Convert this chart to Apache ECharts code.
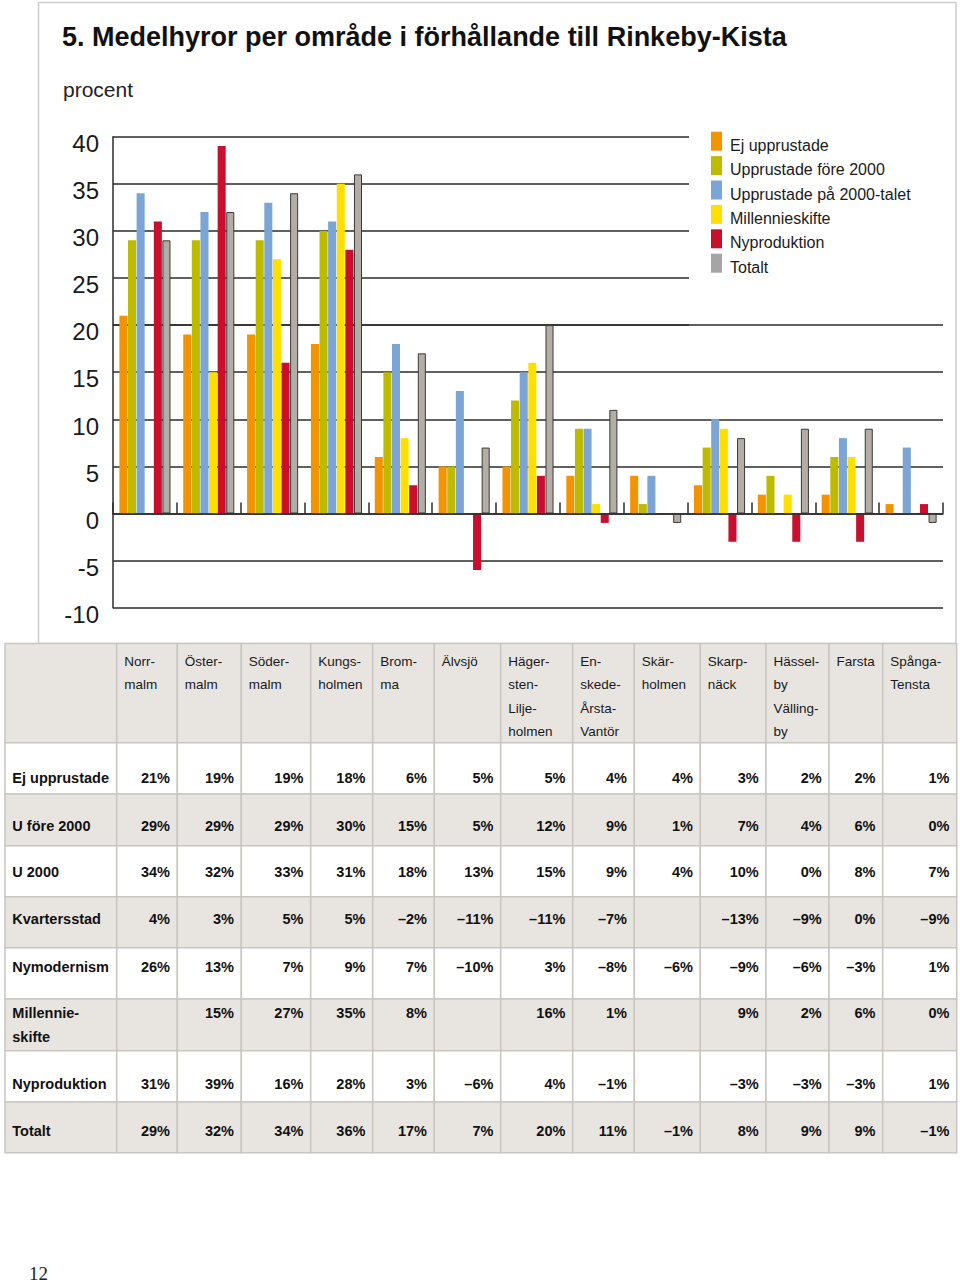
<!DOCTYPE html>
<html>
<head>
<meta charset="utf-8">
<script src="https://cdn.jsdelivr.net/npm/echarts/dist/echarts.min.js"></script>
<style>
html,body{margin:0;padding:0;background:#fff}
#c{width:960px;height:1283px}
</style>
</head>
<body>
<div id="c"></div>
<script>
// ---------- DATA ----------
const categories = ['Norrmalm', 'Östermalm', 'Södermalm', 'Kungsholmen', 'Bromma', 'Älvsjö',
  'Hägersten-Liljeholmen', 'Enskede-Årsta-Vantör', 'Skärholmen', 'Skarpnäck',
  'Hässelby-Vällingby', 'Farsta', 'Spånga-Tensta'];
const headerLabels = ['Norr-\nmalm', 'Öster-\nmalm', 'Söder-\nmalm', 'Kungs-\nholmen', 'Brom-\nma', 'Älvsjö',
  'Häger-\nsten-\nLilje-\nholmen', 'En-\nskede-\nÅrsta-\nVantör', 'Skär-\nholmen', 'Skarp-\nnäck',
  'Hässel-\nby\nVälling-\nby', 'Farsta', 'Spånga-\nTensta'];

const ejUpprustade    = [21, 19, 19, 18, 6, 5, 5, 4, 4, 3, 2, 2, 1];
const uFore2000       = [29, 29, 29, 30, 15, 5, 12, 9, 1, 7, 4, 6, 0];
const u2000           = [34, 32, 33, 31, 18, 13, 15, 9, 4, 10, 0, 8, 7];
const kvartersstad    = [4, 3, 5, 5, -2, -11, -11, -7, null, -13, -9, 0, -9];
const nymodernism     = [26, 13, 7, 9, 7, -10, 3, -8, -6, -9, -6, -3, 1];
const millennieskifte = [null, 15, 27, 35, 8, null, 16, 1, null, 9, 2, 6, 0];
const nyproduktion    = [31, 39, 16, 28, 3, -6, 4, -1, null, -3, -3, -3, 1];
const totalt          = [29, 32, 34, 36, 17, 7, 20, 11, -1, 8, 9, 9, -1];

const seriesNames = ['Ej upprustade', 'Upprustade före 2000', 'Upprustade på 2000-talet',
  'Millennieskifte', 'Nyproduktion', 'Totalt'];
const seriesValues = [ejUpprustade, uFore2000, u2000, millennieskifte, nyproduktion, totalt];

const tableRowLabels = ['Ej upprustade', 'U före 2000', 'U 2000', 'Kvartersstad', 'Nymodernism',
  'Millennie-\nskifte', 'Nyproduktion', 'Totalt'];
const tableRows = [ejUpprustade, uFore2000, u2000, kvartersstad, nymodernism, millennieskifte, nyproduktion, totalt];

const yMin = -10, yMax = 40, yStep = 5;
const titleText = '5. Medelhyror per område i förhållande till Rinkeby-Kista';
const unitText = 'procent';
const pageNumber = '12';

// ---------- STYLE / LAYOUT ----------
const FONT = '"Liberation Sans", Arial, Helvetica, sans-serif';
const seriesColors = ['#f29400', '#bdba00', '#7ba5d4', '#ffdf00', '#c8102e', '#b4ada6'];
const legendGray = '#a5a5a5';
const gridColor = '#2b2b2b';
const plotLeft = 113, plotRight = 943, plotTop = 136.7, plotBottom = 607.7;
const W = 960, H = 1283;
const legendCutX = 689;
const yToPx = v => plotBottom - (v - yMin) / (yMax - yMin) * (plotBottom - plotTop);

const colX = [5, 116.7, 177.3, 241.3, 310.7, 372.7, 434.3, 500.7, 572.7, 634.3, 700.3, 766, 829, 882.7, 956.7];
const rowY = [643.5, 742.7, 794, 845.7, 896.7, 947.7, 999, 1050.7, 1102, 1152.7];
const rowTextY = [777.7, 825.7, 872.3, 919, 966.7, 1013.3, 1084.3, 1131];
const headerTextY = 661.5, lineStep = 23.3;
const cellGray = '#e8e5e1', cellBorder = '#c9c6c1';

function fmt(v) {
  if (v === null || v === undefined) return '';
  return (v < 0 ? '\u2013' + Math.abs(v) : String(v)) + '%';
}

// ---------- GRAPHIC (panel, table, page number) ----------
const graphics = [];
graphics.push({
  type: 'rect', z: 0, silent: true,
  shape: { x: 38.5, y: 2.5, width: 917.5, height: 641 },
  style: { fill: 'none', stroke: '#cdcdcd', lineWidth: 1.5 }
});
for (let r = 0; r < rowY.length - 1; r++) {
  const fill = (r % 2 === 0) ? cellGray : '#ffffff';
  for (let c = 0; c < colX.length - 1; c++) {
    graphics.push({
      type: 'rect', z: 0, silent: true,
      shape: { x: colX[c], y: rowY[r], width: colX[c + 1] - colX[c], height: rowY[r + 1] - rowY[r] },
      style: { fill: fill, stroke: cellBorder, lineWidth: 1.5 }
    });
  }
}
headerLabels.forEach((lab, i) => {
  graphics.push({
    type: 'text', z: 5, silent: true,
    x: colX[i + 1] + 7.5, y: headerTextY - lineStep / 2,
    style: { text: lab, font: '13.5px ' + FONT, fill: '#1a1a1a', align: 'left', verticalAlign: 'top', lineHeight: lineStep }
  });
});
tableRows.forEach((vals, r) => {
  graphics.push({
    type: 'text', z: 5, silent: true,
    x: colX[0] + 7.3, y: rowTextY[r] - lineStep / 2,
    style: { text: tableRowLabels[r], font: 'bold 14.5px ' + FONT, fill: '#111', align: 'left', verticalAlign: 'top', lineHeight: lineStep }
  });
  vals.forEach((v, c) => {
    graphics.push({
      type: 'text', z: 5, silent: true,
      x: colX[c + 2] - 7.3, y: rowTextY[r],
      style: { text: fmt(v), font: 'bold 14.5px ' + FONT, fill: '#111', align: 'right', verticalAlign: 'middle' }
    });
  });
});
graphics.push({
  type: 'text', z: 5, silent: true, x: 29, y: 1273,
  style: { text: pageNumber, font: '19px "Liberation Serif", "Times New Roman", serif', fill: '#222', align: 'left', verticalAlign: 'middle' }
});

// ---------- SERIES ----------
const series = seriesNames.map((name, i) => ({
  name: name,
  type: 'bar',
  xAxisIndex: 0, yAxisIndex: 0,
  data: seriesValues[i],
  barCategoryGap: '20%',
  barGap: '7%',
  itemStyle: i === 5
    ? { color: seriesColors[i], borderColor: '#3a3a3a', borderWidth: 1 }
    : { color: seriesColors[i] },
  emphasis: { disabled: true },
  animation: false
}));

const chart = echarts.init(document.getElementById('c'), null, { renderer: 'svg', width: W, height: H });
chart.setOption({
  animation: false,
  backgroundColor: '#ffffff',
  textStyle: { fontFamily: FONT },
  title: [
    { text: titleText, left: 62, top: 22, padding: 0,
      textStyle: { fontFamily: FONT, fontSize: 27, fontWeight: 'bold', color: '#111', lineHeight: 30 } },
    { text: unitText, left: 63, top: 77, padding: 0,
      textStyle: { fontFamily: FONT, fontSize: 21, fontWeight: 'normal', color: '#222', lineHeight: 24 } }
  ],
  legend: {
    orient: 'vertical', left: 711, top: 129.2, padding: 0,
    itemWidth: 11, itemHeight: 19, itemGap: 0.4,
    icon: 'rect',
    selectedMode: false,
    formatter: '{t|{name}}',
    textStyle: {
      fontFamily: FONT, fontSize: 16, color: '#1a1a1a',
      rich: { t: { fontFamily: FONT, fontSize: 16, color: '#1a1a1a', lineHeight: 11, padding: [8, 0, 0, 3] } }
    },
    data: seriesNames.map((n, i) => ({
      name: n,
      itemStyle: i === 5 ? { color: legendGray, borderWidth: 0 } : { color: seriesColors[i], borderWidth: 0 }
    }))
  },
  grid: [
    { left: plotLeft, right: W - plotRight, top: plotTop, bottom: H - plotBottom },
    { left: plotLeft, right: W - plotRight, top: yToPx(20), bottom: H - plotBottom },
    { left: plotLeft, right: W - legendCutX, top: plotTop, bottom: H - yToPx(20) }
  ],
  xAxis: [
    { type: 'category', gridIndex: 0, data: categories,
      axisLine: { show: true, onZero: true, lineStyle: { color: gridColor, width: 1.5 } },
      axisTick: { show: true, inside: true, interval: 0, length: 11, lineStyle: { color: gridColor, width: 1.5 } },
      axisLabel: { show: false, interval: 0 }, splitLine: { show: false }, z: 3 },
    { type: 'value', gridIndex: 1, show: false, min: 0, max: 1 },
    { type: 'value', gridIndex: 2, show: false, min: 0, max: 1 }
  ],
  yAxis: [
    { type: 'value', gridIndex: 0, min: yMin, max: yMax, interval: yStep,
      axisLine: { show: true, lineStyle: { color: gridColor, width: 1.5 } },
      axisTick: { show: false },
      splitLine: { show: false },
      axisLabel: { show: true, fontFamily: FONT, fontSize: 24, color: '#1a1a1a', margin: 14,
        verticalAlign: 'top', lineHeight: 13.4 } },
    { type: 'value', gridIndex: 1, min: yMin, max: 20, interval: yStep,
      axisLine: { show: false }, axisTick: { show: false }, axisLabel: { show: false },
      splitLine: { show: true, lineStyle: { color: gridColor, width: 1.5 } } },
    { type: 'value', gridIndex: 2, min: 20, max: yMax, interval: yStep,
      axisLine: { show: false }, axisTick: { show: false }, axisLabel: { show: false },
      splitLine: { show: true, lineStyle: { color: gridColor, width: 1.5 } } }
  ],
  series: series,
  graphic: graphics
});
</script>
</body>
</html>
